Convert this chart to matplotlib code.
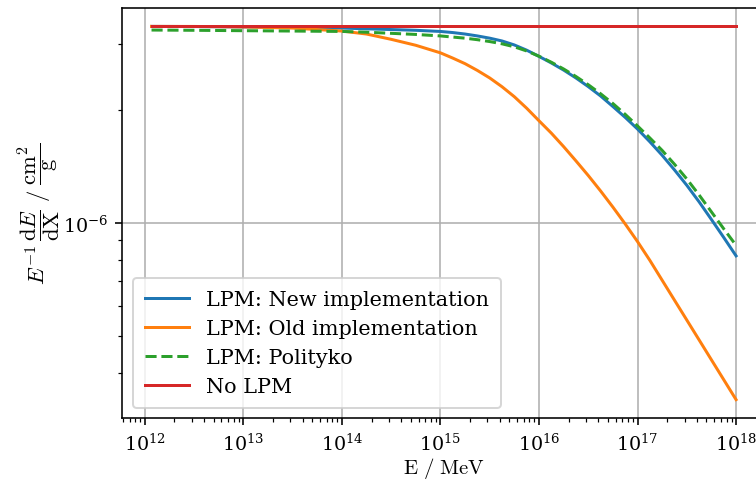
import matplotlib
matplotlib.use('Agg')
import matplotlib.pyplot as plt

# Energias en MeV donde se leyeron los valores
energias = [1.17e12, 3.162e12, 1e13, 3.162e13,
            1e14, 1.778e14, 3.162e14, 5.623e14,
            1e15, 1.334e15, 1.778e15, 2.371e15, 3.162e15, 4.217e15, 5.623e15, 7.499e15,
            1e16, 1.334e16, 1.778e16, 2.371e16, 3.162e16, 4.217e16, 5.623e16, 7.499e16,
            1e17, 1.334e17, 1.778e17, 2.371e17, 3.162e17, 4.217e17, 5.623e17, 7.499e17,
            1e18]

# E^-1 dE/dX en cm^2/g
lpm_nueva = [3.345e-6, 3.342e-6, 3.334e-6, 3.327e-6,
             3.311e-6, 3.296e-6, 3.281e-6, 3.266e-6,
             3.243e-6, 3.221e-6, 3.192e-6, 3.155e-6, 3.112e-6, 3.059e-6, 2.985e-6, 2.891e-6,
             2.783e-6, 2.673e-6, 2.559e-6, 2.438e-6, 2.312e-6, 2.183e-6, 2.046e-6, 1.914e-6,
             1.782e-6, 1.648e-6, 1.517e-6, 1.387e-6, 1.262e-6, 1.140e-6, 1.023e-6, 9.162e-7,
             8.185e-7]
lpm_vieja = [3.345e-6, 3.344e-6, 3.334e-6, 3.311e-6,
             3.251e-6, 3.192e-6, 3.090e-6, 2.979e-6,
             2.844e-6, 2.754e-6, 2.661e-6, 2.553e-6, 2.438e-6, 2.310e-6, 2.173e-6, 2.025e-6,
             1.875e-6, 1.738e-6, 1.600e-6, 1.466e-6, 1.340e-6, 1.219e-6, 1.104e-6, 9.954e-7,
             8.933e-7, 7.962e-7, 7.047e-7, 6.237e-7, 5.521e-7, 4.887e-7, 4.325e-7, 3.828e-7,
             3.388e-7]
lpm_polityko = [3.271e-6, 3.266e-6, 3.258e-6, 3.251e-6,
                3.243e-6, 3.228e-6, 3.206e-6, 3.184e-6,
                3.155e-6, 3.133e-6, 3.112e-6, 3.083e-6, 3.048e-6, 3.006e-6, 2.951e-6, 2.877e-6,
                2.786e-6, 2.685e-6, 2.576e-6, 2.460e-6, 2.339e-6, 2.213e-6, 2.084e-6, 1.950e-6,
                1.816e-6, 1.687e-6, 1.563e-6, 1.436e-6, 1.312e-6, 1.189e-6, 1.072e-6, 9.661e-7,
                8.730e-7]
sin_lpm = [3.345e-6] * len(energias)

# decadas con etiqueta en el eje x
ticks_x = [1e12, 1e13, 1e14, 1e15, 1e16, 1e17, 1e18]

plt.rcParams['font.family'] = 'serif'
plt.rcParams['mathtext.fontset'] = 'cm'

fig = plt.figure(figsize=(5.25, 3.34), dpi=144)
ax = fig.add_axes([122.3 / 756, 1 - 419.3 / 481, (765.3 - 122.3) / 756, (419.3 - 8.7) / 481])

ax.plot(energias, lpm_nueva, label='LPM: New implementation')
ax.plot(energias, lpm_vieja, label='LPM: Old implementation')
ax.plot(energias, lpm_polityko, '--', label='LPM: Polityko')
ax.plot(energias, sin_lpm, label='No LPM')

ax.set_xscale('log')
ax.set_yscale('log')
ax.set_xticks(ticks_x)
ax.grid(True)
ax.tick_params(labelsize=9.5)
ax.set_xlabel(r'$\mathrm{E\ /\ MeV}$', fontsize=10.4, labelpad=1)
ax.set_ylabel(r'$E^{-1}\,\dfrac{\mathrm{d}E}{\mathrm{d}\mathrm{X}}\ /\ \dfrac{\mathrm{cm}^2}{\mathrm{g}}$',
              fontsize=11.3, labelpad=0)
ax.legend(loc='lower left', fontsize=10.4, handlelength=2.15,
          borderpad=0.57, labelspacing=0.48)

fig.savefig('out.png', dpi=144)
plt.close(fig)
